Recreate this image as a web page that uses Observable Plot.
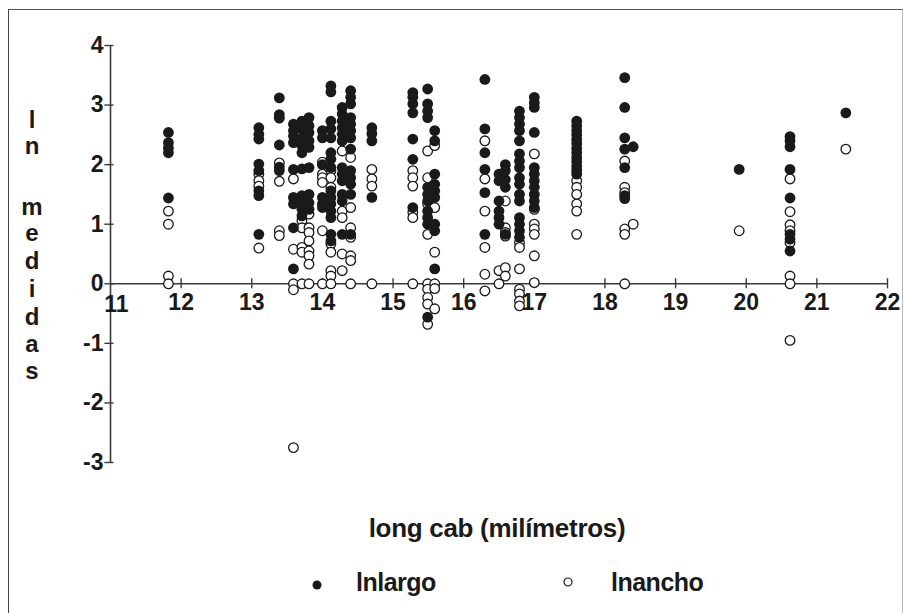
<!DOCTYPE html>
<html>
<head>
<meta charset="utf-8">
<script src="https://cdn.jsdelivr.net/npm/d3@7"></script>
<script src="https://cdn.jsdelivr.net/npm/@observablehq/plot@0.6"></script>
<style>
  html, body { margin: 0; padding: 0; background: #fff; }
  #wrap { position: relative; width: 904px; height: 613px; overflow: hidden; font-family: "Liberation Sans", Arial, sans-serif; color: #1a1a1a; }
  #frame { position: absolute; left: 8px; top: 9px; width: 893px; height: 640px; border-left: 1.5px solid #444; border-top: 1.5px solid #555; border-right: 1px solid #bbb; }
  .ylab { position: absolute; font-size: 24px; font-weight: bold; width: 30px; text-align: center; left: 17px; line-height: 20px; height: 20px; }
  #xtitle { position: absolute; left: 0; width: 994px; top: 513px; text-align: center; font-size: 26px; font-weight: bold; letter-spacing: -0.3px; }
  .leg { position: absolute; top: 568px; font-size: 25px; font-weight: bold; letter-spacing: -0.5px; }
  .sym { position: absolute; }
  #chart { position: absolute; left: 0; top: 0; }
</style>
</head>
<body>
<div id="wrap">
  <div id="frame"></div>
  <div id="chart"></div>
</div>
<script>
// ---- data ----
const xTicks = [11, 12, 13, 14, 15, 16, 17, 18, 19, 20, 21, 22];
const yTicks = [-3, -2, -1, 0, 1, 2, 3, 4];
const yLabelLetters = ["l", "n", "m", "e", "d", "i", "d", "a", "s"];
const xTitle = "long cab (milímetros)";
const seriesNames = ["lnlargo", "lnancho"];

// x position of each column of points (long cab, mm)
const colX = [11.82, 13.10, 13.39, 13.59, 13.71, 13.81, 14.00, 14.12, 14.28, 14.40, 14.70,
              15.28, 15.49, 15.59, 16.30, 16.50, 16.59, 16.79, 17.00, 17.60, 18.28, 18.40,
              19.90, 20.62, 21.41];

// lnlargo values (filled dots) per column
const lnlargo = [
  [2.54, 2.37, 2.28, 2.2, 1.44],
  [2.62, 2.51, 2.43, 2.01, 1.9, 1.56, 1.48, 0.83],
  [3.12, 2.84, 2.78, 2.33, 1.96, 1.9],
  [2.68, 2.57, 2.48, 2.37, 1.92, 1.45, 1.34, 0.94, 0.25],
  [2.73, 2.6, 2.45, 2.32, 2.2, 1.93, 1.48, 1.36, 1.25, 1.14],
  [2.79, 2.65, 2.54, 2.4, 2.29, 1.95, 1.5, 1.36, 1.25],
  [2.57, 2.45, 2.0, 1.45, 1.34, 1.28],
  [3.32, 3.22, 2.73, 2.6, 2.45, 2.2, 2.09, 1.95, 1.56, 1.45, 1.34, 1.22, 1.11, 0.83, 0.72],
  [2.96, 2.85, 2.73, 2.62, 2.51, 2.4, 1.95, 1.84, 1.73, 1.5, 1.39, 0.83],
  [3.24, 3.13, 3.02, 2.79, 2.68, 2.57, 2.45, 2.26, 1.9, 1.78, 1.67, 1.5, 0.83],
  [2.62, 2.52, 2.4, 1.45],
  [3.21, 3.13, 3.02, 2.87, 2.43, 2.09, 1.28],
  [3.27, 3.02, 2.9, 2.79, 1.62, 1.5, 1.39, 1.22, 1.11, 1.0, -0.56],
  [2.57, 2.4, 1.84, 1.67, 1.56, 1.45, 1.0, 0.89, 0.25],
  [3.43, 2.6, 2.2, 1.92, 1.53, 0.83],
  [1.84, 1.73, 1.39, 1.22, 1.11, 1.0],
  [2.0, 1.9, 1.75, 1.62, 0.83],
  [2.9, 2.79, 2.68, 2.57, 2.4, 2.18, 2.06, 1.95, 1.78, 1.67, 1.5, 1.39, 1.11, 1.0, 0.89, 0.78],
  [3.13, 3.04, 2.96, 2.54, 1.95, 1.84, 1.73, 1.62, 1.5, 1.39, 1.28],
  [2.73, 2.65, 2.57, 2.5, 2.42, 2.35, 2.27, 2.2, 2.12, 2.05, 1.97, 1.9, 1.84],
  [3.46, 2.96, 2.45, 2.26, 1.95, 1.48, 1.43],
  [2.3],
  [1.92],
  [2.47, 2.4, 2.3, 1.92, 1.44, 0.83, 0.75, 0.55],
  [2.87]
];

// lnancho values (open circles) per column
const lnancho = [
  [1.22, 1.0, 0.13, 0.0],
  [1.84, 1.73, 1.64, 0.6],
  [2.03, 1.72, 0.89, 0.81],
  [1.76, 0.58, 0.0, -0.1, -2.75],
  [1.06, 0.94, 0.61, 0.53, 0.0],
  [1.17, 0.94, 0.86, 0.72, 0.55, 0.47, 0.33, 0.0],
  [2.04, 1.84, 1.78, 1.7, 0.89, 0.0],
  [1.9, 1.78, 1.62, 0.67, 0.53, 0.22, 0.13, 0.0],
  [2.23, 1.22, 1.11, 0.5, 0.22],
  [2.12, 1.28, 0.94, 0.78, 0.47, 0.39, 0.0],
  [1.92, 1.76, 1.64, 0.0],
  [1.9, 1.78, 1.64, 1.2, 1.11, 0.0],
  [2.23, 1.78, 1.34, 0.83, 0.0, -0.09, -0.23, -0.34, -0.68],
  [2.32, 1.28, 0.53, 0.0, -0.08, -0.42],
  [2.4, 1.76, 1.22, 0.61, 0.16, -0.12],
  [0.22, 0.0],
  [1.39, 0.94, 0.86, 0.8, 0.27, 0.13],
  [0.69, 0.61, 0.25, -0.09, -0.17, -0.29, -0.37],
  [2.18, 1.25, 1.0, 0.92, 0.83, 0.47, 0.02],
  [1.73, 1.62, 1.5, 1.34, 1.22, 0.83],
  [2.06, 1.62, 1.53, 0.92, 0.83, 0.0],
  [1.0],
  [0.89],
  [1.76, 1.21, 0.99, 0.89, 0.69, 0.13, 0.0, -0.95],
  [2.26]
];

// ---- build point tables ----
const largoPts = colX.flatMap((x, i) => lnlargo[i].map(y => ({x, y})));
const anchoPts = colX.flatMap((x, i) => lnancho[i].map(y => ({x, y})));

const ink = "#1a1a1a";
const axisInk = "#3a3a3a";
const tickFont = {fontSize: 23, fontWeight: "bold", fill: ink};

const chart = Plot.plot({
  width: 904,
  height: 613,
  marginLeft: 110,
  marginRight: 17,
  marginTop: 45,
  marginBottom: 151,
  x: {domain: [11, 22], axis: null},
  y: {domain: [-3, 4], axis: null},
  style: {background: "transparent", fontFamily: "'Liberation Sans', Arial, sans-serif", overflow: "visible"},
  marks: [
    // axes lines
    Plot.ruleY([0], {x1: 11, x2: 22, stroke: axisInk, strokeWidth: 1.6}),
    Plot.ruleX([11], {y1: -3, y2: 4, stroke: axisInk, strokeWidth: 1.6}),
    // x ticks (crossing the zero line)
    Plot.ruleX(xTicks.slice(1), {x: d => d, y1: -0.085, y2: 0.085, stroke: axisInk, strokeWidth: 1.4}),
    // y ticks
    Plot.ruleY(yTicks, {y: d => d, x1: 10.92, x2: 11.05, stroke: axisInk, strokeWidth: 1.4}),
    // open circles (lnancho)
    Plot.dot(anchoPts, {x: "x", y: "y", r: 4.8, fill: "white", stroke: ink, strokeWidth: 1.3}),
    // filled dots (lnlargo)
    Plot.dot(largoPts, {x: "x", y: "y", r: 5.4, fill: ink, stroke: "none"}),
    // x tick labels (first one nudged right, clear of the "0")
    Plot.text(xTicks.slice(1), {x: d => d, y: 0, text: d => String(d), dy: 19, letterSpacing: "-1px", ...tickFont}),
    Plot.text(xTicks.slice(0, 1), {x: d => d, y: 0, text: d => String(d), dy: 21, dx: 6, letterSpacing: "-1px", ...tickFont}),
    // y tick labels
    Plot.text(yTicks, {x: 11, y: d => d, text: d => String(d), dx: -7, textAnchor: "end", ...tickFont})
  ]
});
document.getElementById("chart").appendChild(chart);

// ---- y-axis title, stacked letters ----
const wrap = document.getElementById("wrap");
const letterTops = [110, 136, 197, 223, 251, 279, 307, 334, 361];
yLabelLetters.forEach((ch, i) => {
  const s = document.createElement("div");
  s.className = "ylab";
  s.style.top = letterTops[i] + "px";
  s.textContent = ch;
  wrap.appendChild(s);
});

// ---- x-axis title ----
const xt = document.createElement("div");
xt.id = "xtitle";
xt.textContent = xTitle;
wrap.appendChild(xt);

// ---- legend ----
const legendItems = [
  {name: seriesNames[0], symLeft: 311, textLeft: 356, filled: true},
  {name: seriesNames[1], symLeft: 562, textLeft: 611, filled: false}
];
legendItems.forEach(it => {
  const ns = "http://www.w3.org/2000/svg";
  const svg = document.createElementNS(ns, "svg");
  svg.setAttribute("width", 12); svg.setAttribute("height", 12);
  svg.setAttribute("class", "sym");
  svg.style.left = it.symLeft + "px";
  svg.style.top = (it.filled ? 579 : 576) + "px";
  const c = document.createElementNS(ns, "circle");
  c.setAttribute("cx", 6); c.setAttribute("cy", 6); c.setAttribute("r", it.filled ? 4.5 : 4);
  c.setAttribute("fill", it.filled ? ink : "white");
  c.setAttribute("stroke", ink);
  c.setAttribute("stroke-width", it.filled ? 0 : 1.2);
  svg.appendChild(c);
  wrap.appendChild(svg);
  const t = document.createElement("div");
  t.className = "leg";
  t.style.left = it.textLeft + "px";
  t.textContent = it.name;
  wrap.appendChild(t);
});
</script>
</body>
</html>
